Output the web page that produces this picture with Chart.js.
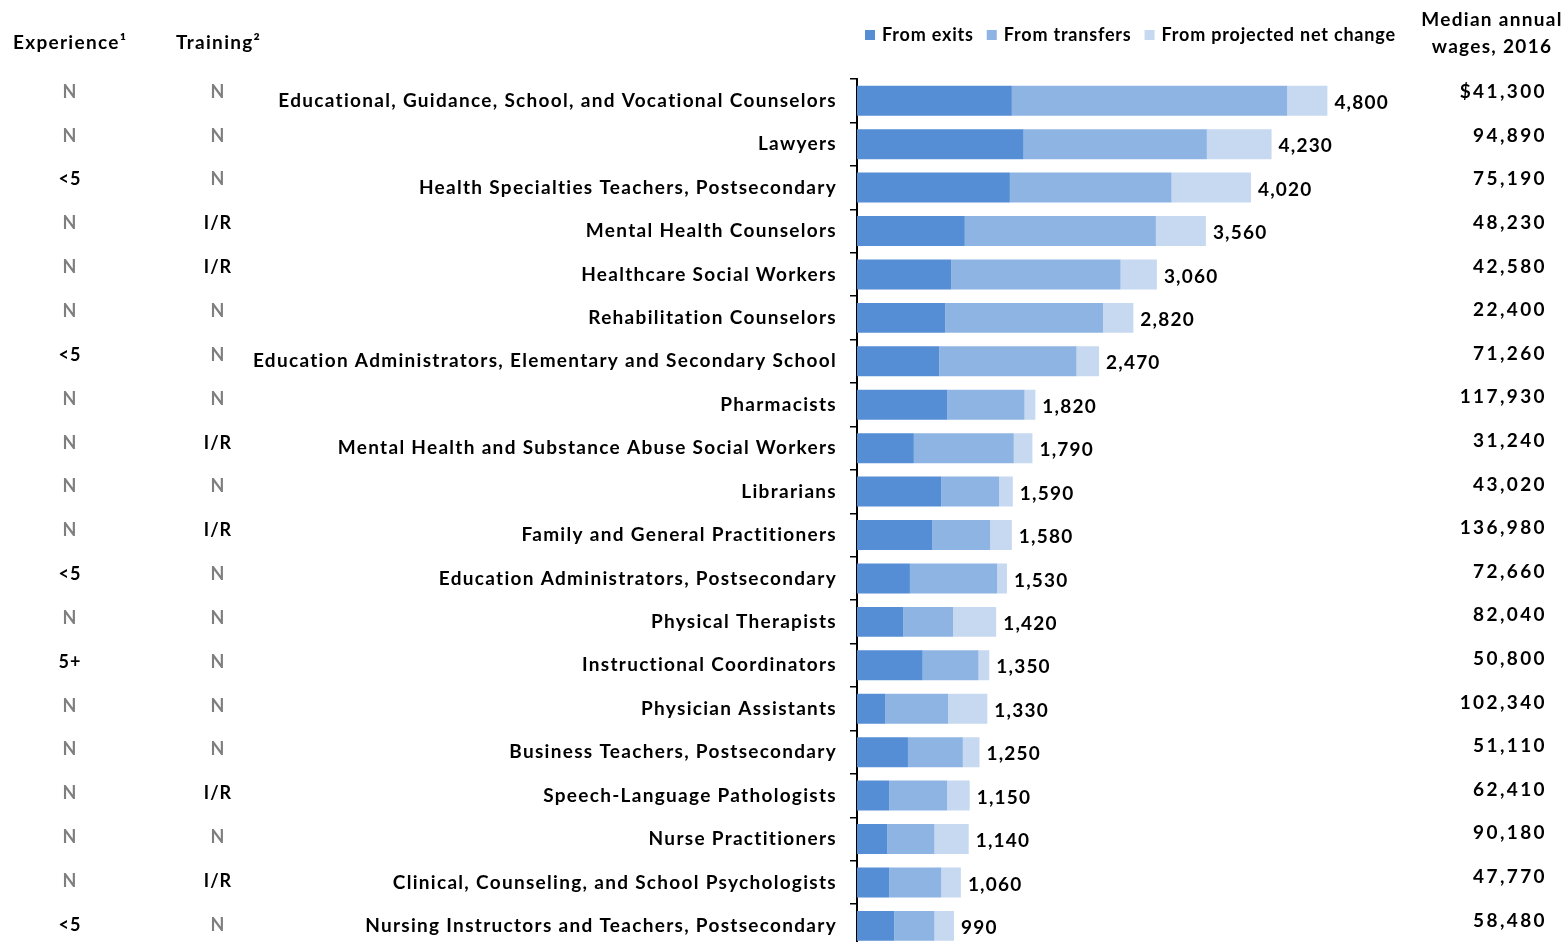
<!DOCTYPE html>
<html>
<head>
<meta charset="utf-8">
<title>Openings by occupation</title>
<script src="https://cdn.jsdelivr.net/npm/chart.js@4.4.0/dist/chart.umd.min.js"></script>
<style>
  html, body { margin: 0; padding: 0; background: #fff; overflow: hidden; }
  #wrap { width: 1567px; height: 972px; }
</style>
</head>
<body>
<div id="wrap"><canvas id="openingsChart" width="1567" height="972"></canvas></div>
<script>
var occupations = [
    'Educational, Guidance, School, and Vocational Counselors',
    'Lawyers',
    'Health Specialties Teachers, Postsecondary',
    'Mental Health Counselors',
    'Healthcare Social Workers',
    'Rehabilitation Counselors',
    'Education Administrators, Elementary and Secondary School',
    'Pharmacists',
    'Mental Health and Substance Abuse Social Workers',
    'Librarians',
    'Family and General Practitioners',
    'Education Administrators, Postsecondary',
    'Physical Therapists',
    'Instructional Coordinators',
    'Physician Assistants',
    'Business Teachers, Postsecondary',
    'Speech-Language Pathologists',
    'Nurse Practitioners',
    'Clinical, Counseling, and School Psychologists',
    'Nursing Instructors and Teachers, Postsecondary'
];
var fromExits     = [1580, 1700, 1560, 1100, 960, 900, 840, 920, 580, 860, 770, 540, 470, 670, 290, 520, 330, 310, 330, 380];
var fromTransfers = [2810, 1870, 1650, 1950, 1730, 1610, 1400, 790, 1020, 590, 590, 890, 510, 570, 640, 560, 590, 480, 530, 410];
var fromNetChange = [410, 660, 810, 510, 370, 310, 230, 110, 190, 140, 220, 100, 440, 110, 400, 170, 230, 350, 200, 200];
var experience = ['N', 'N', '<5', 'N', 'N', 'N', '<5', 'N', 'N', 'N', 'N', '<5', 'N', '5+', 'N', 'N', 'N', 'N', 'N', '<5'];
var training   = ['N', 'N', 'N', 'I/R', 'I/R', 'N', 'N', 'N', 'I/R', 'N', 'I/R', 'N', 'N', 'N', 'N', 'N', 'I/R', 'N', 'I/R', 'N'];
var medianWages = ['$41,300', '94,890', '75,190', '48,230', '42,580', '22,400', '71,260', '117,930', '31,240', '43,020',
                   '136,980', '72,660', '82,040', '50,800', '102,340', '51,110', '62,410', '90,180', '47,770', '58,480'];

var FONT = 'Lato, "Open Sans", sans-serif';
var AXIS_X = 857;

// wider tracking for the axis labels (Chart.js has no option for it)
var tracking = {
    id: 'tracking',
    beforeDraw: function (chart) { chart.ctx.letterSpacing = '1.3px'; },
    afterDraw: function (chart) { chart.ctx.letterSpacing = '0px'; }
};

// labels beside the plot: totals, left columns, wages and the legend
var sidePanels = {
    id: 'sidePanels',
    afterDraw: function (chart) {
        var ctx = chart.ctx;
        var xs = chart.scales.x, ys = chart.scales.y;
        ctx.save();

        // total openings at the end of each bar
        ctx.font = 'bold 19px ' + FONT;
        ctx.letterSpacing = '1.2px';
        ctx.fillStyle = '#000';
        ctx.textAlign = 'left';
        ctx.textBaseline = 'middle';
        occupations.forEach(function (name, i) {
            var total = fromExits[i] + fromTransfers[i] + fromNetChange[i];
            ctx.fillText(total.toLocaleString('en-US'), xs.getPixelForValue(total) + 7, ys.getPixelForValue(i) + 2);
        });

        // column headers
        ctx.font = 'bold 19px ' + FONT;
        ctx.letterSpacing = '1.3px';
        ctx.textAlign = 'left';
        ctx.fillText('Experience\u00b9', 13, 43);
        ctx.fillText('Training\u00b2', 176, 43);
        ctx.textAlign = 'center';
        ctx.fillText('Median annual', 1492, 20);
        ctx.fillText('wages, 2016', 1492, 47);

        // experience / training codes
        ctx.font = 'bold 18px ' + FONT;
        ctx.letterSpacing = '1px';
        experience.forEach(function (code, i) {
            var y = 92 + i * 43.84;
            ctx.fillStyle = code === 'N' ? '#7f7f7f' : '#000';
            ctx.fillText(code, 70, y);
            ctx.fillStyle = training[i] === 'N' ? '#7f7f7f' : '#000';
            ctx.fillText(training[i], 218, y);
        });

        // median wages
        ctx.font = 'bold 19px ' + FONT;
        ctx.letterSpacing = '2.4px';
        ctx.fillStyle = '#000';
        ctx.textAlign = 'right';
        medianWages.forEach(function (w, i) {
            ctx.fillText(w, 1547, 92 + i * 43.6);
        });

        // legend
        ctx.font = 'bold 18px ' + FONT;
        ctx.letterSpacing = '0.8px';
        ctx.textAlign = 'left';
        var lx = 865;
        chart.data.datasets.forEach(function (ds) {
            ctx.fillStyle = ds.backgroundColor;
            ctx.fillRect(lx, 30, 10, 10);
            ctx.fillStyle = '#000';
            ctx.fillText(ds.label, lx + 17, 35);
            lx += 17 + ctx.measureText(ds.label).width + 13;
        });

        ctx.restore();
    }
};

var ctx = document.getElementById('openingsChart').getContext('2d');
new Chart(ctx, {
    type: 'bar',
    data: {
        labels: occupations,
        datasets: [
            { label: 'From exits', data: fromExits, backgroundColor: '#558ed5' },
            { label: 'From transfers', data: fromTransfers, backgroundColor: '#8eb4e3' },
            { label: 'From projected net change', data: fromNetChange, backgroundColor: '#c6d9f1' }
        ]
    },
    options: {
        indexAxis: 'y',
        responsive: false,
        animation: false,
        barPercentage: 0.69,
        categoryPercentage: 1,
        layout: { padding: { top: 79, bottom: 2, left: 0, right: 171 } },
        plugins: {
            legend: { display: false },
            tooltip: { enabled: false }
        },
        scales: {
            x: {
                stacked: true,
                display: false,
                min: 0,
                max: 5500
            },
            y: {
                stacked: true,
                afterFit: function (scale) { scale.width = AXIS_X; },
                border: { display: true, color: '#000', width: 2 },
                grid: { drawOnChartArea: false, drawTicks: true, tickLength: 7, color: '#000', lineWidth: 1.5 },
                ticks: {
                    color: '#000',
                    padding: 13,
                    font: { family: FONT, size: 19, weight: 'bold' }
                }
            }
        }
    },
    plugins: [tracking, sidePanels]
});
</script>
</body>
</html>
